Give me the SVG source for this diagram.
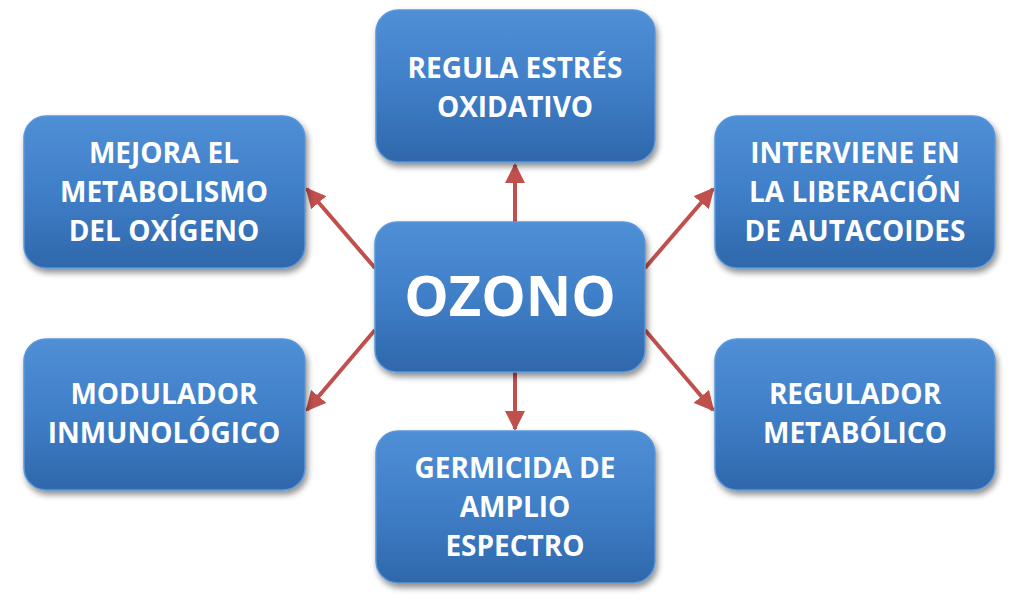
<svg xmlns="http://www.w3.org/2000/svg" width="1024" height="595" viewBox="0 0 1024 595">
<defs>
<linearGradient id="g" x1="0" y1="0" x2="0" y2="1">
<stop offset="0" stop-color="#4f8fd6"/>
<stop offset="0.5" stop-color="#3f7fc8"/>
<stop offset="1" stop-color="#2f67ab"/>
</linearGradient>
<filter id="sh" x="-10%" y="-10%" width="125%" height="130%">
<feGaussianBlur in="SourceAlpha" stdDeviation="3"/>
<feOffset dx="2" dy="4" result="b"/>
<feComponentTransfer><feFuncA type="linear" slope="0.45"/></feComponentTransfer>
<feMerge><feMergeNode/><feMergeNode in="SourceGraphic"/></feMerge>
</filter>
<marker id="ah" viewBox="0 0 10 10" refX="9" refY="5" markerWidth="5" markerHeight="5" orient="auto" markerUnits="strokeWidth">
<path d="M0,0 L10,5 L0,10 z" fill="#c0504d"/>
</marker>
</defs>
<style>
.box{fill:url(#g);stroke:#5a96d8;stroke-width:1.5;filter:url(#sh)}
.t{font-family:"Open Sans","Liberation Sans",sans-serif;font-weight:bold;font-size:28px;fill:#ffffff;text-anchor:middle}
.big{font-size:56px}
.c{stroke:#c0504d;stroke-width:4;fill:none;marker-end:url(#ah)}
</style>
<rect width="1024" height="595" fill="#ffffff"/>
<g id="connectors">
<line class="c" x1="515" y1="222" x2="515" y2="165"/>
<line class="c" x1="375" y1="268" x2="307" y2="189"/>
<line class="c" x1="645" y1="268" x2="713" y2="189"/>
<line class="c" x1="375" y1="330" x2="307" y2="410"/>
<line class="c" x1="645" y1="330" x2="713" y2="410"/>
<line class="c" x1="515" y1="372" x2="515" y2="429"/>
</g>
<g id="n-top">
<rect class="box" x="376" y="10" width="279" height="152" rx="22"/>
<text class="t" x="515" y="78">REGULA ESTRÉS</text>
<text class="t" x="515" y="117">OXIDATIVO</text>
</g>
<g id="n-lt">
<rect class="box" x="24" y="116" width="281" height="152" rx="22"/>
<text class="t" x="164" y="163">MEJORA EL</text>
<text class="t" x="164" y="202">METABOLISMO</text>
<text class="t" x="164" y="241">DEL OXÍGENO</text>
</g>
<g id="n-rt">
<rect class="box" x="715" y="116" width="280" height="152" rx="22"/>
<text class="t" x="855" y="163">INTERVIENE EN</text>
<text class="t" x="855" y="202">LA LIBERACIÓN</text>
<text class="t" x="855" y="241">DE AUTACOIDES</text>
</g>
<g id="n-lb">
<rect class="box" x="24" y="339" width="281" height="151" rx="22"/>
<text class="t" x="164" y="404">MODULADOR</text>
<text class="t" x="164" y="443">INMUNOLÓGICO</text>
</g>
<g id="n-rb">
<rect class="box" x="715" y="339" width="280" height="151" rx="22"/>
<text class="t" x="855" y="404">REGULADOR</text>
<text class="t" x="855" y="443">METABÓLICO</text>
</g>
<g id="n-bottom">
<rect class="box" x="376" y="431" width="279" height="152" rx="22"/>
<text class="t" x="515" y="478">GERMICIDA DE</text>
<text class="t" x="515" y="517">AMPLIO</text>
<text class="t" x="515" y="556">ESPECTRO</text>
</g>
<g id="n-center">
<rect class="box" x="375" y="222" width="270" height="150" rx="22"/>
<text class="t big" x="510" y="316">OZONO</text>
</g>
</svg>
